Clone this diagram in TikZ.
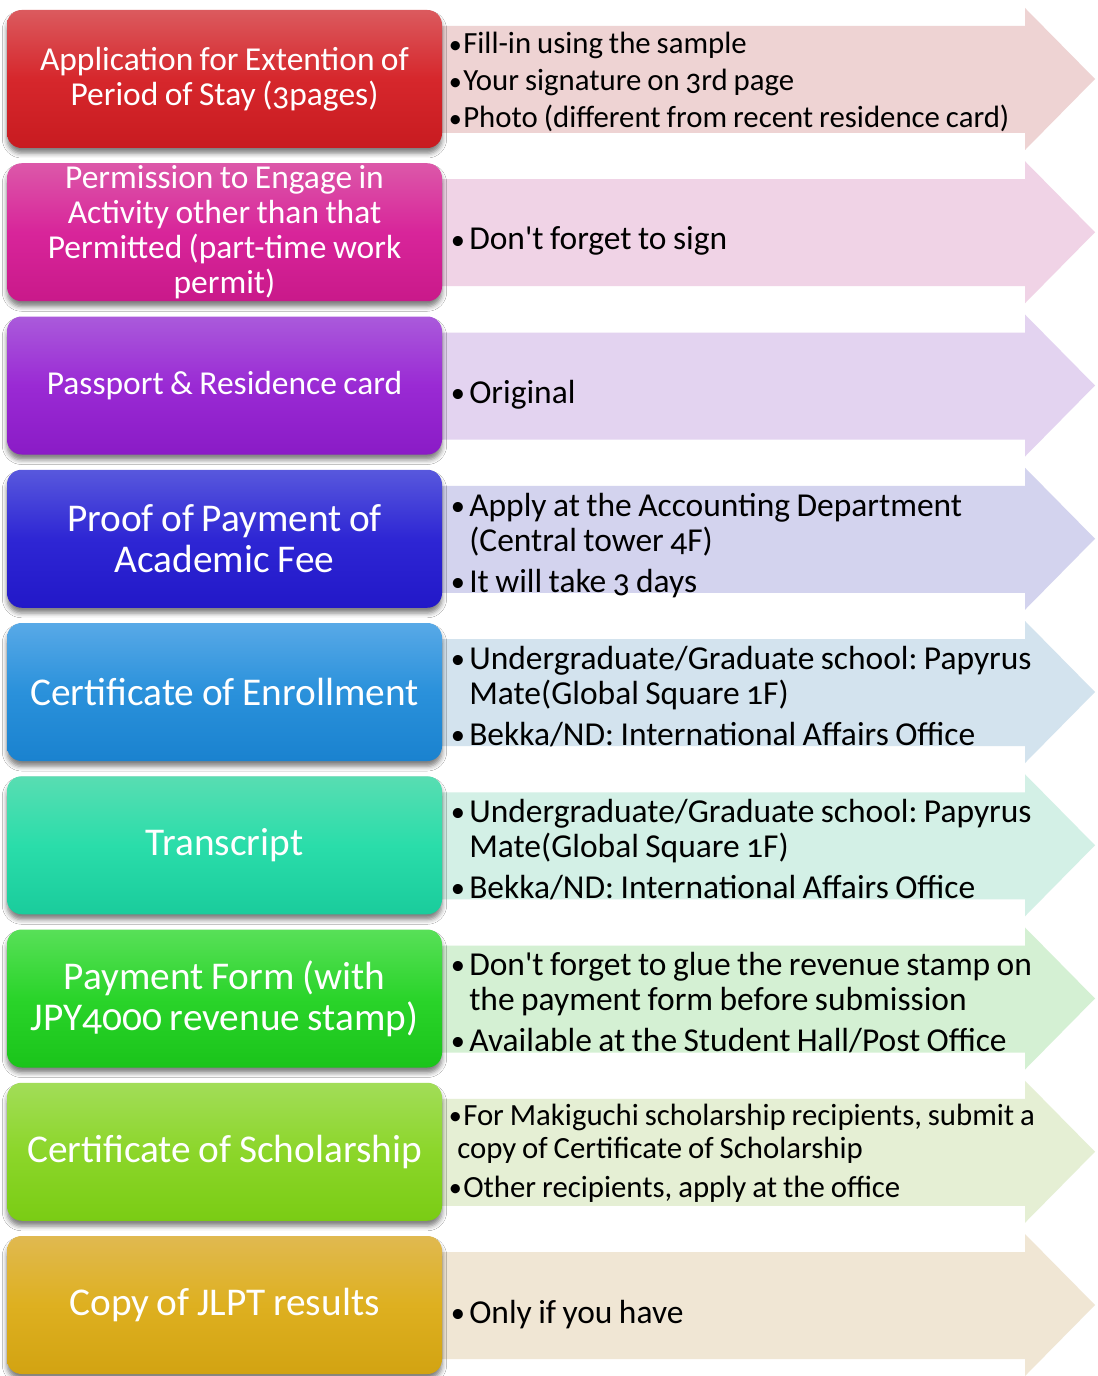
\documentclass[tikz,border=0pt]{standalone}
\usepackage{fontspec}
\usepackage{graphicx}
\setmainfont{Carlito}[Numbers=OldStyle, WordSpace=0.85]
\usetikzlibrary{shadows.blur}
\frenchspacing

% box gradients (top / middle / bottom)
\definecolor{rA}{HTML}{DB5A5E}\definecolor{rB}{HTML}{D6272C}\definecolor{rC}{HTML}{C81B20}
\definecolor{mA}{HTML}{DC58A9}\definecolor{mB}{HTML}{D8259A}\definecolor{mC}{HTML}{C9198A}
\definecolor{pA}{HTML}{AA5ADB}\definecolor{pB}{HTML}{9A2AD4}\definecolor{pC}{HTML}{8A1BC6}
\definecolor{bA}{HTML}{5858DD}\definecolor{bB}{HTML}{2E26D4}\definecolor{bC}{HTML}{2218C8}
\definecolor{sA}{HTML}{58A9E7}\definecolor{sB}{HTML}{2A91DB}\definecolor{sC}{HTML}{1A82CF}
\definecolor{tA}{HTML}{58DDB2}\definecolor{tB}{HTML}{2ADDAA}\definecolor{tC}{HTML}{1ACC9C}
\definecolor{gA}{HTML}{58E058}\definecolor{gB}{HTML}{2AD42A}\definecolor{gC}{HTML}{1AC41A}
\definecolor{lA}{HTML}{A2DD58}\definecolor{lB}{HTML}{8CD62A}\definecolor{lC}{HTML}{7ACC14}
\definecolor{yA}{HTML}{E0B950}\definecolor{yB}{HTML}{DEB020}\definecolor{yC}{HTML}{D2A312}
% arrow tints
\definecolor{rL}{HTML}{EED3D3}\definecolor{mL}{HTML}{F0D3E6}\definecolor{pL}{HTML}{E3D3F0}
\definecolor{bL}{HTML}{D3D3EE}\definecolor{sL}{HTML}{D3E3EE}\definecolor{tL}{HTML}{D3F0E6}
\definecolor{gL}{HTML}{D4F0D3}\definecolor{lL}{HTML}{E5EFD4}\definecolor{yL}{HTML}{F0E6D4}

\newcommand\fs[2]{\fontsize{#1}{#2}\selectfont}
\newcommand\itm[2]{\makebox[#1][l]{\hspace{0.5pt}\raisebox{0.6pt}{\scalebox{0.85}{•}}}#2}
\newcommand\cont[2]{\hspace*{#1}#2}
% arrow band behind each row: #1 = top of row, #2 = tint
\newcommand\band[2]{%
  \fill[#2] (430,#1+16) -- (1025,#1+16) -- (1025,#1-2) -- (1095,#1+69)
    -- (1025,#1+140) -- (1025,#1+123) -- (430,#1+123) -- cycle;}

\tikzset{
  box/.style={rounded corners=11pt, minimum width=326.25pt, minimum height=103.5pt,
    inner sep=0pt, text=white, align=center,
    blur shadow={shadow xshift=0pt, shadow yshift=-4pt, shadow blur radius=3.5pt, shadow opacity=50}},
  small/.style={font={\fs{25.1}{26.25}}},
  big/.style={font={\fs{29.5}{30.75}}},
  note/.style={anchor=base west, inner sep=0pt, text width=470pt, align=flush left, text=black},
  notes/.style={note, font={\fs{23.1}{27.75}}},
  notel/.style={note, font={\fs{25.1}{26.25}}},
}

\begin{document}
\begin{tikzpicture}[x=0.75pt, y=-0.75pt]
\useasboundingbox[fill=white] (0,0) rectangle (1097,1376);

\band{10}{rL}
\band{163.25}{mL}
\band{316.5}{pL}
\band{469.75}{bL}
\band{623}{sL}
\band{776.25}{tL}
\band{929.5}{gL}
\band{1082.75}{lL}
\band{1236}{yL}

\node[box, small, top color=rA, bottom color=rC, middle color=rB] (b1) at (224.5,79)
  {Application for Extention of\\Period of Stay (3pages)};
\node[box, small, top color=mA, bottom color=mC, middle color=mB] (b2) at (224.5,232.25)
  {Permission to Engage in\\Activity other than that\\Permitted (part-time work\\permit)};
\node[box, small, top color=pA, bottom color=pC, middle color=pB] (b3) at (224.5,385.5)
  {Passport \& Residence card};
\node[box, big, top color=bA, bottom color=bC, middle color=bB] (b4) at (224.5,538.75)
  {Proof of Payment of\\Academic Fee};
\node[box, big, top color=sA, bottom color=sC, middle color=sB] (b5) at (224.5,692)
  {Certificate of Enrollment};
\node[box, big, top color=tA, bottom color=tC, middle color=tB] (b6) at (224.5,845.25)
  {Transcript};
\node[box, big, top color=gA, bottom color=gC, middle color=gB] (b7) at (224.5,998.5)
  {Payment Form (with\\JPY4000 revenue stamp)};
\node[box, big, top color=lA, bottom color=lC, middle color=lB] (b8) at (224.5,1151.75)
  {Certificate of Scholarship};
\node[box, big, top color=yA, bottom color=yC, middle color=yB] (b9) at (224.5,1305)
  {Copy of JLPT results};

\node[notes] (n1) at (448,54)
  {\itm{11.25pt}{Fill-in using the sample}\\
   \itm{11.25pt}{Your signature on 3rd page}\\
   \itm{11.25pt}{Photo (different from recent residence card)}};
\node[notel] (n2) at (450,250) {\itm{14.25pt}{Don\textquotesingle t forget to sign}};
\node[notel] (n3) at (450,403.5) {\itm{14.25pt}{Original}};
\node[notel] (n4) at (450,516)
  {\itm{14.25pt}{Apply at the Accounting Department}\\
   \cont{14.25pt}{(Central tower 4F)}\\[4.5pt]
   \itm{14.25pt}{It will take 3 days}};
\node[notel] (n5) at (450,669)
  {\itm{14.25pt}{Undergraduate/Graduate school: Papyrus}\\
   \cont{14.25pt}{Mate(Global Square 1F)}\\[4.5pt]
   \itm{14.25pt}{Bekka/ND: International Affairs Office}};
\node[notel] (n6) at (450,822.25)
  {\itm{14.25pt}{Undergraduate/Graduate school: Papyrus}\\
   \cont{14.25pt}{Mate(Global Square 1F)}\\[4.5pt]
   \itm{14.25pt}{Bekka/ND: International Affairs Office}};
\node[notel] (n7) at (450,975.5)
  {\itm{14.25pt}{Don\textquotesingle t forget to glue the revenue stamp on}\\
   \cont{14.25pt}{the payment form before submission}\\[4.5pt]
   \itm{14.25pt}{Available at the Student Hall/Post Office}};
\node[notes] (n8) at (448,1125)
  {\itm{11.25pt}{For Makiguchi scholarship recipients, submit a}\\[-3pt]
   \cont{6.75pt}{copy of Certificate of Scholarship}\\[1.5pt]
   \itm{11.25pt}{Other recipients, apply at the office}};
\node[notel] (n9) at (450,1323) {\itm{14.25pt}{Only if you have}};
\end{tikzpicture}
\end{document}
